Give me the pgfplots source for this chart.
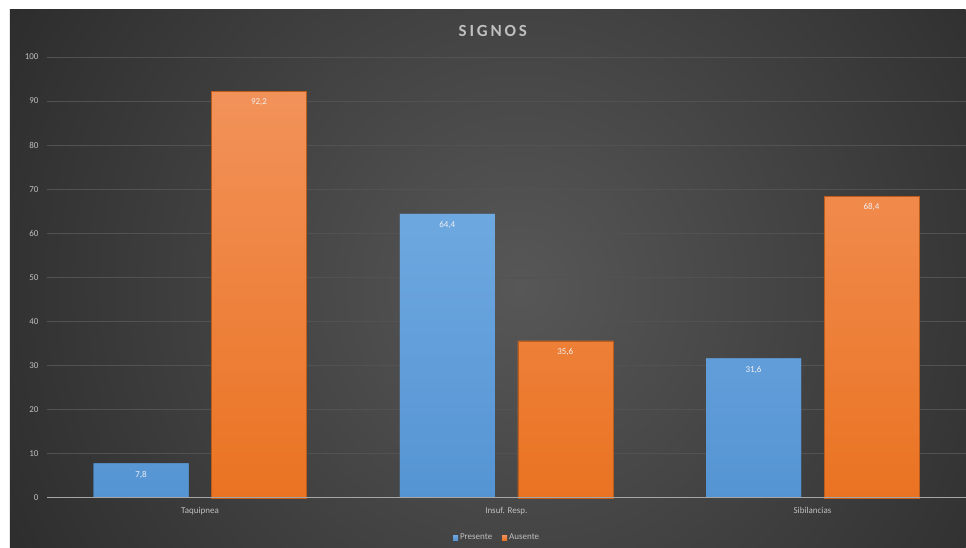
\documentclass[border=0pt]{standalone}
\usepackage{fontspec}
\setmainfont{Carlito}
\usepackage{pgfplots}
\pgfplotsset{compat=1.18}
\definecolor{bgin}{HTML}{575757}
\definecolor{bgout}{HTML}{2A2A2A}
\definecolor{bluetop}{HTML}{6EA8E0}
\definecolor{bluebot}{HTML}{5594D3}
\definecolor{orgtop}{HTML}{F2925A}
\definecolor{orgbot}{HTML}{EA7322}
\definecolor{gridc}{HTML}{525252}
\definecolor{txt}{HTML}{BFBFBF}
\begin{document}
\begin{tikzpicture}[x=1pt,y=1pt]
\fill[white] (0,0) rectangle (966,548);
\begin{scope}
\clip (10,0) rectangle (966,538);
\fill[bgout] (10,0) rectangle (966,538);
\shade[inner color=bgin, outer color=bgout] (520,260) circle (620);
\end{scope}
\node[text=txt, font=\bfseries\fontsize{17}{19}\selectfont] at (493,517) {S\,I\,G\,N\,O\,S};
\begin{axis}[
  at={(47pt,50pt)}, anchor=south west,
  scale only axis, width=919pt, height=441pt,
  xmin=-0.5, xmax=2.5, ymin=0, ymax=100,
  axis line style={draw=none},
  ytick={0,10,...,100},
  xtick={0,1,2},
  xticklabels={Taquipnea, Insuf. Resp., Sibilancias},
  major tick length=0pt,
  ymajorgrids, grid style={gridc, line width=0.6pt},
  tick label style={text=txt, font=\fontsize{9}{10}\selectfont},
  yticklabel style={xshift=-5pt},
  xticklabel style={yshift=-6pt},
  /pgf/number format/assume math mode=true,
  ybar, bar width=95pt,
  nodes near coords,
  every node near coord/.append style={anchor=north, yshift=-4pt, text=white!88!gray, font=\fontsize{9}{10}\selectfont,
     /pgf/number format/use comma, /pgf/number format/fixed, /pgf/number format/fixed zerofill, /pgf/number format/precision=1},
  legend style={at={(rel axis cs:0.49,0)}, anchor=north, yshift=-32pt, draw=none, fill=none, text=txt,
     font=\fontsize{9}{10}\selectfont, legend columns=2, /tikz/every even column/.append style={column sep=8pt}},
  legend image code/.code={\fill[#1, draw=none] (0pt,-2.5pt) rectangle (5pt,2.5pt);},
  clip=false,
]
\addplot[bar shift=-59pt, draw=none, top color=bluetop, bottom color=bluebot, fill=bluebot] coordinates {(0,7.8) (1,64.4) (2,31.6)};
\addlegendentry{Presente}
\addplot[bar shift=59pt, draw=orgbot!80!black, line width=0.4pt, top color=orgtop, bottom color=orgbot, fill=orgbot] coordinates {(0,92.2) (1,35.6) (2,68.4)};
\addlegendentry{Ausente}
\draw[gray!70, line width=0.8pt] (axis cs:-0.5,0) -- (axis cs:2.5,0);
\end{axis}
\end{tikzpicture}
\end{document}
